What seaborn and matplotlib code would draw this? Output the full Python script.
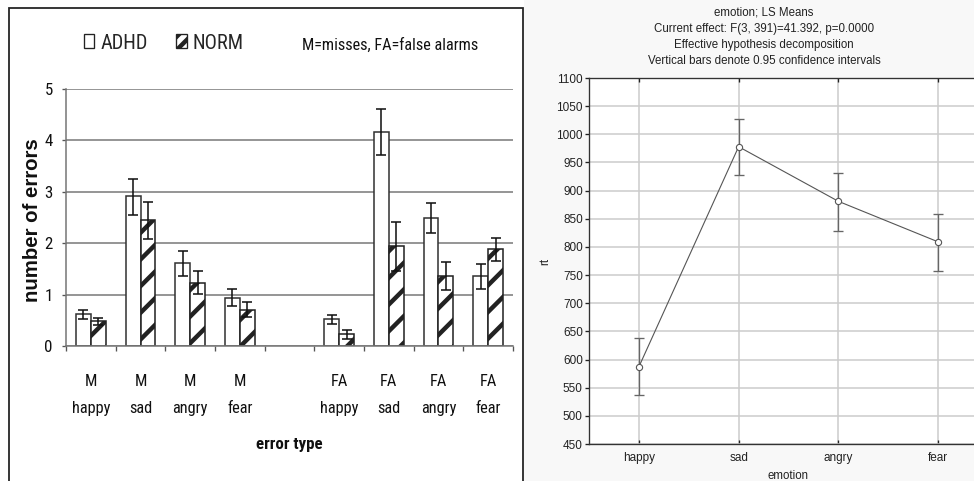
import matplotlib
matplotlib.use("Agg")
import matplotlib.pyplot as plt
from matplotlib.patches import Patch, Rectangle
import seaborn as sns
import pandas as pd
import numpy as np

# left panel: errors by type
slots = ["M\nhappy", "M\nsad", "M\nangry", "M\nfear", "",
         "FA\nhappy", "FA\nsad", "FA\nangry", "FA\nfear"]
used_slots = [s for s in slots if s]
groups = ["ADHD", "NORM"]
adhd_mean = [0.62, 2.91, 1.61, 0.94, 0.52, 4.16, 2.49, 1.36]
adhd_lo = [0.53, 2.55, 1.37, 0.78, 0.43, 3.71, 2.19, 1.11]
adhd_hi = [0.71, 3.25, 1.84, 1.10, 0.61, 4.61, 2.78, 1.59]
norm_mean = [0.48, 2.45, 1.23, 0.71, 0.23, 1.94, 1.36, 1.88]
norm_lo = [0.41, 2.08, 1.01, 0.56, 0.13, 1.45, 1.08, 1.66]
norm_hi = [0.55, 2.81, 1.45, 0.86, 0.32, 2.42, 1.64, 2.10]
err_ticks = [0, 1, 2, 3, 4, 5]

# right panel: LS means of rt
emotions = ["happy", "sad", "angry", "fear"]
rt_mean = [587, 978, 881, 809]
rt_lo = [537, 927, 829, 757]
rt_hi = [638, 1028, 931, 859]
rt_ticks = list(range(450, 1101, 50))
title_lines = ["emotion; LS Means",
               "Current effect: F(3, 391)=41.392, p=0.0000",
               "Effective hypothesis decomposition",
               "Vertical bars denote 0.95 confidence intervals"]

sns.set_theme(style="white")
plt.rcParams["font.family"] = ["Liberation Sans", "DejaVu Sans"]
plt.rcParams["hatch.linewidth"] = 2.0
narrow = ["Roboto Condensed", "DejaVu Sans"]

W, H, DPI = 974, 481, 160
fig = plt.figure(figsize=(W / DPI, H / DPI), dpi=DPI)
fig.patch.set_facecolor("white")

def fx(px):
    return px / W

def fy(py):
    return 1 - py / H

# background of the right panel and frame of the left one
fig.patches.append(Rectangle((fx(524), 0), fx(450), 1, transform=fig.transFigure,
                             facecolor="#f8f8f8", edgecolor="none", zorder=-5))
fig.patches.append(Rectangle((fx(9), -0.1), fx(523 - 9), fy(8) + 0.1,
                             transform=fig.transFigure, fill=False,
                             edgecolor="#222222", linewidth=0.8, zorder=1))

# ---------- left: bar chart ----------
ax1 = fig.add_axes([fx(66), fy(346), fx(513 - 66), (346 - 89) / H])
df = pd.DataFrame({
    "slot": used_slots * 2,
    "group": ["ADHD"] * len(used_slots) + ["NORM"] * len(used_slots),
    "errors": adhd_mean + norm_mean,
})
sns.barplot(data=df, x="slot", y="errors", hue="group", order=slots,
            hue_order=groups, palette=["white", "white"], width=0.6, gap=0,
            errorbar=None, edgecolor="#333333", linewidth=0.7, legend=False,
            ax=ax1)

for cont, mean, lo, hi, grp in zip(ax1.containers, [adhd_mean, norm_mean],
                                   [adhd_lo, norm_lo], [adhd_hi, norm_hi], groups):
    bars = sorted(cont.patches, key=lambda b: b.get_x())
    xs = [b.get_x() + b.get_width() / 2 for b in bars]
    if grp == "NORM":
        for b in bars:
            b.set_hatch("//")
            b.set_edgecolor("#222222")
    m = np.array(mean)
    ax1.errorbar(xs, m, yerr=[m - np.array(lo), np.array(hi) - m], fmt="none",
                 ecolor="#111111", elinewidth=0.7, capsize=2.1, capthick=0.7,
                 zorder=4)

ax1.set_ylim(0, 5)
ax1.set_xlim(-0.5, len(slots) - 0.5)
ax1.set_yticks(err_ticks)
ax1.set_yticklabels([str(t) for t in err_ticks], family=narrow, fontsize=7.6)
ax1.set_xticks(np.arange(-0.5, len(slots), 1), labels=[])
ax1.set_xticks(range(len(slots)), labels=slots, minor=True, family=narrow,
               fontsize=7.4, linespacing=2.0)
ax1.tick_params(axis="x", which="major", length=2.2, width=0.6,
                color="#555555", bottom=True, direction="out")
ax1.tick_params(axis="x", which="minor", length=0, pad=12.5, colors="#111111")
ax1.tick_params(axis="y", length=2, width=0.6, color="#555555", left=True,
                pad=4, colors="#111111")
ax1.yaxis.grid(True, color="#7a7a7a", linewidth=0.7)
ax1.set_axisbelow(True)
for s in ["top", "right"]:
    ax1.spines[s].set_visible(False)
for s in ["left", "bottom"]:
    ax1.spines[s].set_color("#777777")
    ax1.spines[s].set_linewidth(0.7)
ax1.set_ylabel("number of errors", fontsize=9.2, fontweight="bold",
               color="#111111", va="center")
ax1.yaxis.set_label_coords((33 - 66) / (513 - 66), (346 - 220) / (346 - 89))
ax1.set_xlabel("error type", fontsize=7.6, fontweight="bold", family=narrow,
               color="#111111", va="center")
ax1.xaxis.set_label_coords((289 - 66) / (513 - 66), (346 - 445) / (346 - 89))

handles = [Patch(facecolor="white", edgecolor="#222222", linewidth=0.6),
           Patch(facecolor="white", edgecolor="#222222", linewidth=0.6,
                 hatch="////")]
fig.legend(handles, groups, loc="center left", bbox_to_anchor=(fx(84), fy(43)),
           ncol=2, frameon=False, handlelength=0.5, handleheight=0.65,
           handletextpad=0.3, columnspacing=1.4, borderpad=0, borderaxespad=0,
           prop={"family": narrow, "size": 9.2})
fig.text(fx(390), fy(45), "M=misses, FA=false alarms", ha="center", va="center",
         family=narrow, fontsize=7.3, color="#111111")

# ---------- right: LS means ----------
ax2 = fig.add_axes([fx(589), fy(444), fx(988 - 589), (444 - 78) / H])
ax2.set_facecolor("white")
rdf = pd.DataFrame({"emotion": emotions, "rt": rt_mean})
sns.pointplot(data=rdf, x="emotion", y="rt", order=emotions, errorbar=None,
              color="#555555", linewidth=0.5, markers="o", markersize=2.8,
              markerfacecolor="white", markeredgecolor="#555555",
              markeredgewidth=0.5, ax=ax2, zorder=5)
rm = np.array(rt_mean)
ax2.errorbar(range(len(emotions)), rm,
             yerr=[rm - np.array(rt_lo), np.array(rt_hi) - rm], fmt="none",
             ecolor="#666666", elinewidth=0.6, capsize=2.4, capthick=0.6,
             zorder=3)
ax2.set_xlim(-0.5, len(emotions) - 0.5)
ax2.set_ylim(450, 1100)
ax2.set_yticks(rt_ticks)
ax2.grid(True, color="#cccccc", linewidth=0.7)
ax2.set_axisbelow(True)
ax2.tick_params(axis="x", direction="in", top=True, bottom=True, length=1.6,
                width=0.6, color="#222222", labelsize=5.3, pad=3.5,
                labelcolor="#222222")
ax2.tick_params(axis="y", direction="out", left=True, length=1.6, width=0.6,
                color="#222222", labelsize=5.3, pad=1.2, labelcolor="#222222")
ax2.spines["right"].set_visible(False)
for s in ["left", "bottom", "top"]:
    ax2.spines[s].set_color("#333333")
    ax2.spines[s].set_linewidth(0.6)
ax2.set_ylabel("rt", fontsize=5.2, color="#222222", va="center")
ax2.yaxis.set_label_coords((545 - 589) / (988 - 589), 0.5)
ax2.set_xlabel("emotion", fontsize=5.2, color="#222222", va="center")
ax2.xaxis.set_label_coords(0.5, (444 - 476) / (444 - 78))

fig.text(fx(764), fy(37), "\n".join(title_lines), ha="center", va="center",
         fontsize=5.2, color="#222222", linespacing=1.45)

fig.savefig("out.png", dpi=DPI)
